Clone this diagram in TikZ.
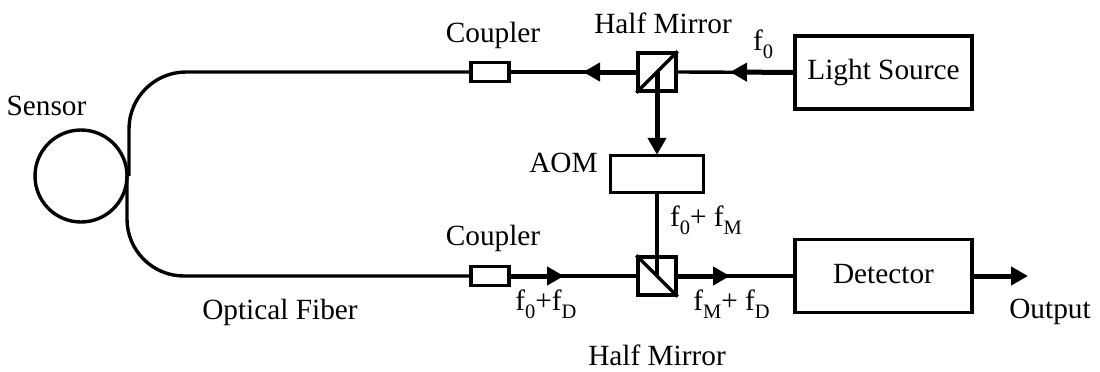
\documentclass[tikz,border=0pt]{standalone}
\usepackage{fontspec}
\setmainfont{Liberation Serif}
\usetikzlibrary{arrows.meta}
% indice plus bas et plus grand que \textsubscript
\newcommand{\indice}[1]{\raisebox{-8.5pt}{\fontsize{20.5}{21}\selectfont #1}}
\begin{document}
\begin{tikzpicture}[
  x=1pt, y=-1pt,
  font=\fontsize{29.3}{31}\selectfont,
  boite/.style={draw, line width=3.4pt, inner sep=0pt, align=center},
  bloc/.style={boite, minimum width=177pt, minimum height=73pt, text height=20pt, text depth=6pt},
  miroir/.style={boite, minimum width=38pt, minimum height=38pt},
  coupleur/.style={boite, minimum width=38pt, minimum height=19pt},
  fibre/.style={line width=3.4pt},
  fl/.style={-{Triangle[length=17pt,width=18pt]}, line width=5pt, shorten >=-1pt},
  txt/.style={inner sep=0pt, anchor=base},
]
\useasboundingbox (0,0) rectangle (1100,372);
% ---- blocs
\node[bloc] (source) at (883.5,72.5) {Light Source};
\node[miroir] (miroirh) at (657,72) {};
\node[coupleur] (couplh) at (490,72) {};
\node[boite, minimum width=93pt, minimum height=37pt] (aom) at (657,174) {};
\node[miroir] (miroirb) at (657,276) {};
\node[coupleur] (couplb) at (490,276) {};
\node[bloc] (detect) at (883.5,276) {Detector};
\node[draw, circle, line width=3.4pt, minimum size=92pt, inner sep=0pt] (capteur) at (81,176) {};
% ---- points libres
\coordinate (jonch) at (129,176);
\coordinate (joncb) at (127,176);
\coordinate (ph1) at (584,72);
\coordinate (ph2) at (731,72);
\coordinate (pb1) at (563,276);
\coordinate (pb2) at (729,276);
\coordinate (sortie) at (1027,276);
% ---- fibre
\draw[fibre, rounded corners=57pt] (couplh.west) -| (jonch);
\draw[fibre, rounded corners=57pt] (couplb.west) -| (joncb);
\draw[fibre] (couplh.east) -- (miroirh.west);
\draw[fibre] (miroirh.east) -- (source.west);
\draw[fibre] (couplb.east) -- (miroirb.west);
\draw[fibre] (miroirb.east) -- (detect.west);
\draw[fibre] (aom.south) -- (miroirb.center);
\draw[fibre] (miroirh.south west) -- (miroirh.north east);
\draw[fibre] (miroirb.north west) -- (miroirb.south east);
% ---- fleches
\draw[fl] (miroirh.west) -- (ph1);
\draw[fl] (source.west) -- (ph2);
\draw[fl] (miroirh.center) -- (aom.north);
\draw[fl] (couplb.east) -- (pb1);
\draw[fl] (miroirb.east) -- (pb2);
\draw[fl] (detect.east) -- (sortie);
% ---- textes
\node[txt] (lcapteur) at (46.5,115) {Sensor};
\node[txt] (lmh) at (663,33) {Half Mirror};
\node[txt] (lf0) at (763,50) {f\indice{0}};
\node[txt] (lch) at (493,42) {Coupler};
\node[txt] (laom) at (563.5,172) {AOM};
\node[txt] (lfm) at (706,226) {f\indice{0}+ f\indice{M}};
\node[txt] (lcb) at (493,245) {Coupler};
\node[txt] (lfib) at (280,319) {Optical Fiber};
\node[txt] (lfd) at (546,310) {f\indice{0}+f\indice{D}};
\node[txt] (lfmd) at (731.5,310) {f\indice{M}+ f\indice{D}};
\node[txt] (lmb) at (657,365) {Half Mirror};
\node[txt] (lsortie) at (1050,318) {Output};
\end{tikzpicture}
\end{document}
